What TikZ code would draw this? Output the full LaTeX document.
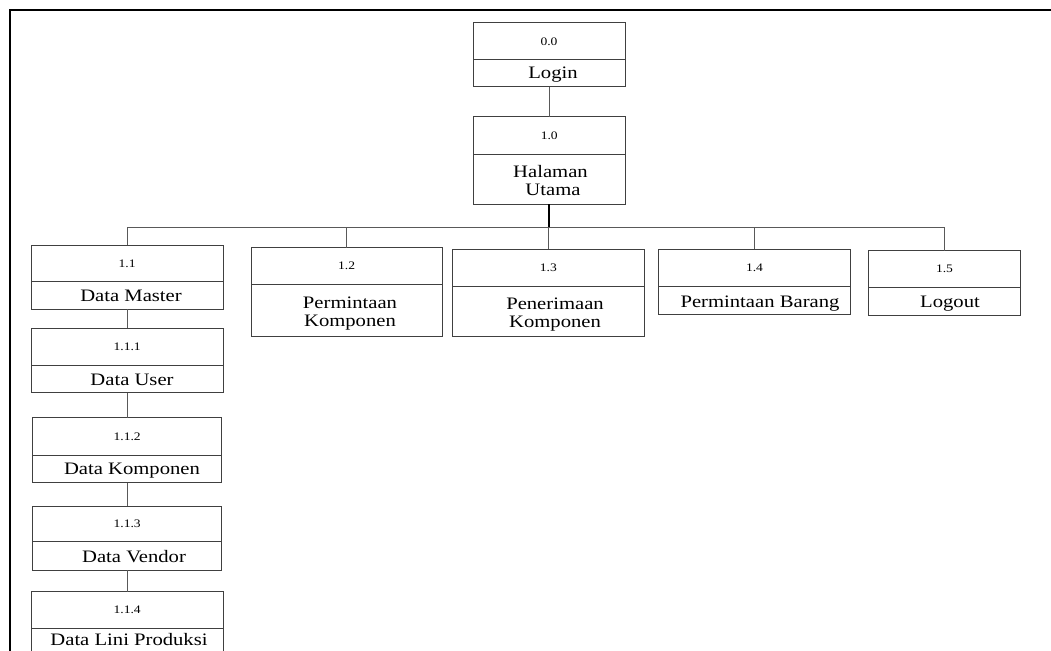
\documentclass[tikz,border=0pt]{standalone}
\usepackage{fontspec}
\setmainfont{Liberation Serif}[FakeStretch=1.18]
\begin{document}
\begin{tikzpicture}[x=1pt,y=1pt,
  boxst/.style={draw=black!75, line width=1pt, inner sep=0pt, outer sep=0pt, fill=white},
  divst/.style={draw=black!75, line width=1pt},
  numst/.style={inner sep=0pt, font=\fontsize{11.5}{12}\selectfont},
  labst/.style={inner sep=0pt, anchor=base, font=\fontsize{17.5}{18}\selectfont},
  conn/.style={draw=black!65, line width=1pt},
  connb/.style={draw=black, line width=1.6pt},
  frame/.style={draw=black, line width=2.2pt}]
\useasboundingbox (0,0) rectangle (1051,-650);
\clip (0,0) rectangle (1051,-650);
\newcommand{\hipobox}[7]{%
  \node[boxst, minimum width={#3-#2}, minimum height={#6-#4}] (#1) at ({(#2+#3)/2},{-(#4+#6)/2}) {};
  \draw[divst] (#2,-#5) -- (#3,-#5);
  \node[numst] (#1n) at ({(#2+#3)/2},{-(#4+#5)/2}) {#7};
}
% frame
\draw[frame] (10,-660) -- (10,-10) -- (1060,-10);
% boxes
\hipobox{login}{473}{625}{23}{60}{87}{0.0}
\hipobox{hal}{473}{625.5}{117}{154.3}{204}{1.0}
\hipobox{m11}{31}{223.3}{245}{281.7}{309.3}{1.1}
\hipobox{m12}{251}{442.3}{247.7}{284}{336}{1.2}
\hipobox{m13}{452.3}{644.3}{249.3}{286}{336.7}{1.3}
\hipobox{m14}{658.3}{850.7}{249.3}{286.7}{314}{1.4}
\hipobox{m15}{868.3}{1020.7}{250.7}{287.3}{315}{1.5}
\hipobox{m111}{31}{223.3}{328.3}{365}{392.7}{1.1.1}
\hipobox{m112}{32.7}{221.7}{417.7}{455}{482.7}{1.1.2}
\hipobox{m113}{32.7}{221.7}{506}{541.7}{570}{1.1.3}
\hipobox{m114}{31}{223.3}{591.7}{628.3}{662}{1.1.4}
% labels
\node[labst] (loginl) at (553,-78.5) {Login};
\node[labst] (hall1) at (550.5,-177.7) {Halaman};
\node[labst] (hall2) at (553,-195.7) {Utama};
\node[labst] (m11l) at (131,-301.5) {Data Master};
\node[labst] (m12l1) at (350,-308.3) {Permintaan};
\node[labst] (m12l2) at (350,-326.7) {Komponen};
\node[labst] (m13l1) at (555,-309.3) {Penerimaan};
\node[labst] (m13l2) at (555,-327.3) {Komponen};
\node[labst] (m14l) at (760,-307.3) {Permintaan Barang};
\node[labst] (m15l) at (950,-307.3) {Logout};
\node[labst] (m111l) at (132,-385.7) {Data User};
\node[labst] (m112l) at (132,-474.3) {Data Komponen};
\node[labst] (m113l) at (134,-562.7) {Data Vendor};
\node[labst] (m114l) at (129,-645.5) {Data Lini Produksi};
% connectors
\coordinate (bus) at (0,-227);
\draw[conn] (login.south) -- (login.south |- hal.north);
\draw[connb] (hal.south) -- (hal.south |- bus);
\draw[conn] (m11.north |- bus) -- (m15.north |- bus);
\draw[conn] (m11.north |- bus) -- (m11.north);
\draw[conn] (m12.north |- bus) -- (m12.north);
\draw[conn] (m13.north |- bus) -- (m13.north);
\draw[conn] (m14.north |- bus) -- (m14.north);
\draw[conn] (m15.north |- bus) -- (m15.north);
\draw[conn] (m11.south) -- (m11.south |- m111.north);
\draw[conn] (m111.south) -- (m111.south |- m112.north);
\draw[conn] (m112.south) -- (m112.south |- m113.north);
\draw[conn] (m113.south) -- (m113.south |- m114.north);
\end{tikzpicture}
\end{document}
